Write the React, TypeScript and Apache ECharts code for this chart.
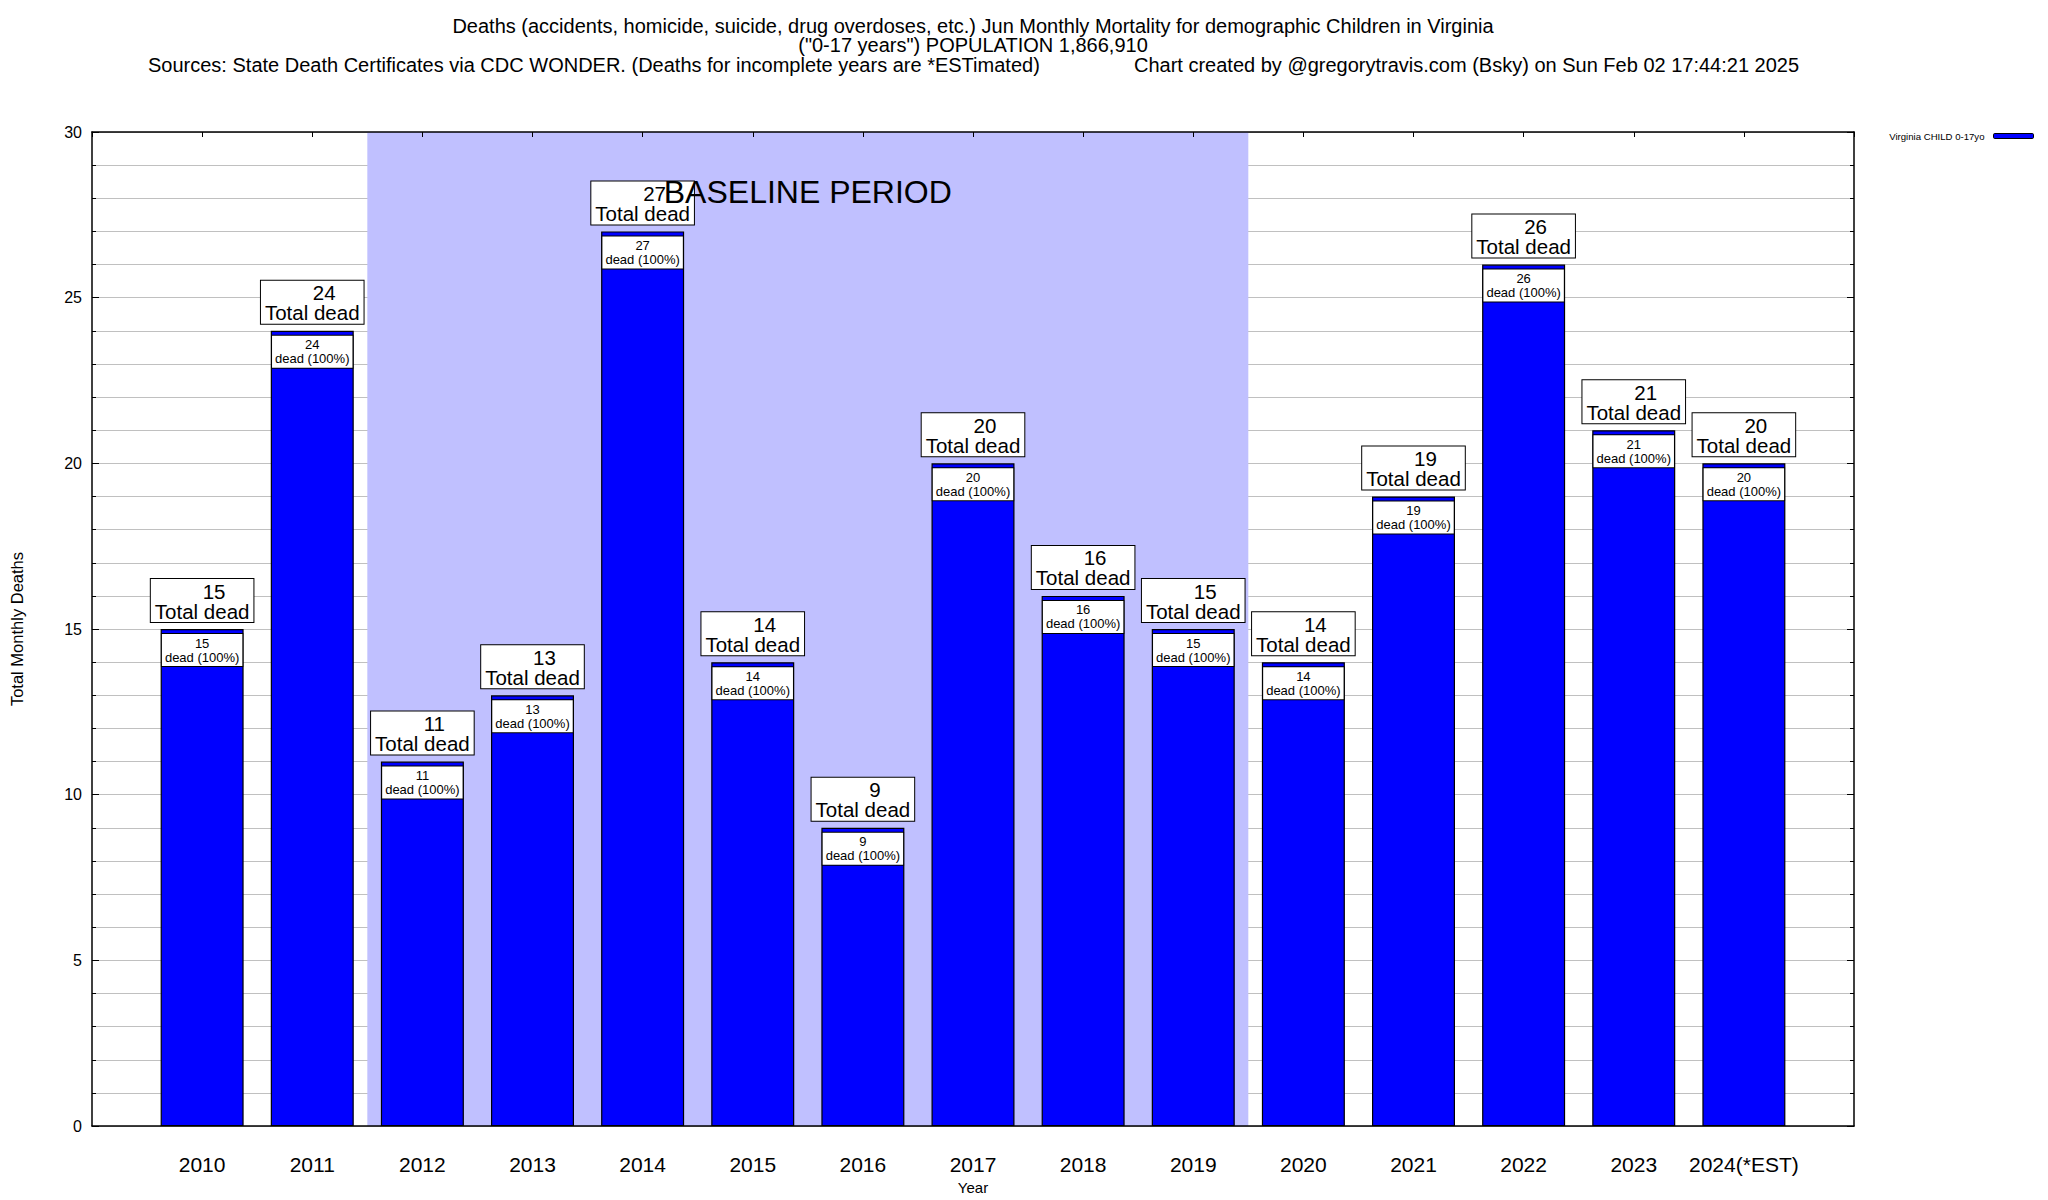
import React, { useEffect, useRef } from "react";
import * as echarts from "echarts";

const years = ["2010", "2011", "2012", "2013", "2014", "2015", "2016", "2017", "2018", "2019", "2020", "2021", "2022", "2023", "2024(*EST)"];
const deaths = [15, 24, 11, 13, 27, 14, 9, 20, 16, 15, 14, 19, 26, 21, 20];
const baselineStart = 1.5;
const baselineEnd = 9.5;
const baselineLabelPos = [5.5, 28.2];
const titleLine1 = "Deaths (accidents, homicide, suicide, drug overdoses, etc.) Jun Monthly Mortality for demographic Children in Virginia";
const titleLine2 = "(\"0-17 years\") POPULATION 1,866,910";
const sourceText = "Sources: State Death Certificates via CDC WONDER. (Deaths for incomplete years are *ESTimated)";
const creditText = "Chart created by @gregorytravis.com (Bsky) on Sun Feb 02 17:44:21 2025";
const seriesName = "Virginia CHILD 0-17yo";

const FONT = "Liberation Sans, Arial, Helvetica, sans-serif";

export default function App() {
  const ref = useRef<HTMLDivElement>(null);
  useEffect(() => {
    if (!ref.current) return;
    document.body.style.margin = "0";
    document.body.style.overflow = "hidden";
    document.documentElement.style.overflow = "hidden";
    const chart = echarts.init(ref.current, null, { renderer: "svg" });
    const pts = deaths.map((v, i) => [i, v]);
    const titleStyle = { fontFamily: FONT, fontSize: 20, fontWeight: "normal", color: "#000", lineHeight: 19.5 };
    const option: any = {
      animation: false,
      backgroundColor: "#ffffff",
      textStyle: { fontFamily: FONT, color: "#000" },
      title: [
        {
          text: titleLine1 + "\n" + titleLine2,
          left: 973,
          top: 16,
          padding: 0,
          textAlign: "center",
          textStyle: titleStyle,
        },
        { text: sourceText, left: 148, top: 55, padding: 0, textStyle: titleStyle },
        { text: creditText, left: 1134, top: 55, padding: 0, textStyle: titleStyle },
      ],
      legend: {
        data: [seriesName],
        right: 14,
        top: 131,
        align: "right",
        itemWidth: 40,
        itemHeight: 5,
        itemGap: 9,
        padding: 0,
        textStyle: { fontFamily: FONT, fontSize: 9.6, color: "#000", padding: [0, 4, 0, 0] },
        itemStyle: { borderColor: "#000", borderWidth: 1 },
      },
      grid: { left: 92, top: 132, width: 1762, height: 1000, show: false },
      xAxis: [
        {
          type: "value",
          min: -1,
          max: 15,
          interval: 1,
          z: 1,
          name: "Year",
          nameLocation: "middle",
          nameGap: 49,
          nameTextStyle: { fontFamily: FONT, fontSize: 15, color: "#000" },
          axisLine: { show: true, onZero: false, lineStyle: { color: "#000", width: 1.5 } },
          axisTick: { show: false },
          splitLine: { show: false },
          axisLabel: {
            fontFamily: FONT,
            fontSize: 21,
            color: "#000",
            margin: 28,
            formatter: (v: number) => (v >= 0 && v < years.length && Number.isInteger(v) ? years[v] : ""),
          },
        },
        {
          type: "value",
          position: "top",
          min: -1,
          max: 15,
          interval: 1,
          z: 1,
          axisLine: { show: true, onZero: false, lineStyle: { color: "#000", width: 1.5 } },
          axisTick: { show: true, inside: true, length: 5, lineStyle: { color: "#000" } },
          splitLine: { show: false },
          axisLabel: { show: false },
        },
      ],
      yAxis: [
        {
          type: "value",
          min: 0,
          max: 30,
          interval: 5,
          z: 1,
          name: "Total Monthly Deaths",
          nameLocation: "middle",
          nameRotate: 90,
          nameGap: 67,
          nameTextStyle: { fontFamily: FONT, fontSize: 16.5, color: "#000" },
          axisLine: { show: true, onZero: false, lineStyle: { color: "#000", width: 1.5 } },
          axisTick: { show: true, inside: true, length: 7, lineStyle: { color: "#000" } },
          minorTick: { show: true, splitNumber: 5, length: 4, lineStyle: { color: "#000" } },
          splitLine: { show: true, lineStyle: { color: "#c0c0c0", width: 1 } },
          minorSplitLine: { show: true, lineStyle: { color: "#c0c0c0", width: 1 } },
          axisLabel: { fontFamily: FONT, fontSize: 16, color: "#000", margin: 10 },
        },
        {
          type: "value",
          position: "right",
          min: 0,
          max: 30,
          interval: 5,
          z: 1,
          axisLine: { show: true, onZero: false, lineStyle: { color: "#000", width: 1.5 } },
          axisTick: { show: true, inside: true, length: 7, lineStyle: { color: "#000" } },
          minorTick: { show: true, splitNumber: 5, length: 4, lineStyle: { color: "#000" } },
          splitLine: { show: false },
          axisLabel: { show: false },
        },
      ],
      series: [
        {
          name: "shade",
          type: "scatter",
          z: 0,
          data: [],
          silent: true,
          markArea: {
            silent: true,
            itemStyle: { color: "#c0c0ff", opacity: 1 },
            label: { show: false },
            data: [[{ xAxis: baselineStart, yAxis: 0 }, { xAxis: baselineEnd, yAxis: 30 }]],
          },
        },
        {
          name: seriesName,
          type: "bar",
          z: 2,
          barWidth: 83,
          barGap: "-100%",
          data: pts,
          itemStyle: { color: "#0000ff", borderColor: "#000", borderWidth: 1.2 },
          label: {
            show: true,
            position: "top",
            distance: 7,
            backgroundColor: "#fff",
            borderColor: "#000",
            borderWidth: 1,
            padding: [2, 4, 1, 4],
            formatter: (p: any) => "{n|" + p.value[1] + "}\n{t|Total dead}",
            rich: {
              n: { fontFamily: FONT, fontSize: 20.5, lineHeight: 20, color: "#000", padding: [0, 0, 0, 24] },
              t: { fontFamily: FONT, fontSize: 20.5, lineHeight: 20, color: "#000" },
            },
          },
        },
        {
          name: "inner",
          type: "bar",
          z: 3,
          barWidth: 83,
          barGap: "-100%",
          data: pts,
          silent: true,
          itemStyle: { color: "rgba(0,0,0,0)", borderWidth: 0 },
          label: {
            show: true,
            position: "insideTop",
            distance: 5,
            backgroundColor: "#fff",
            borderColor: "#000",
            borderWidth: 1,
            padding: [2, 3, 2, 3],
            fontFamily: FONT,
            fontSize: 13,
            lineHeight: 14,
            color: "#000",
            textBorderWidth: 0,
            align: "center",
            formatter: (p: any) => p.value[1] + "\ndead (100%)",
          },
        },
        {
          name: "baseline",
          type: "scatter",
          z: 10,
          silent: true,
          symbolSize: 0,
          itemStyle: { opacity: 1 },
          data: [baselineLabelPos],
          label: {
            show: true,
            position: "inside",
            formatter: "BASELINE PERIOD",
            fontFamily: FONT,
            fontSize: 32,
            color: "#000",
            opacity: 1,
            textBorderWidth: 0,
            textBorderColor: "transparent",
          },
        },
      ],
    };
    chart.setOption(option);
    return () => chart.dispose();
  }, []);
  return <div ref={ref} style={{ width: 2048, height: 1200 }} />;
}
